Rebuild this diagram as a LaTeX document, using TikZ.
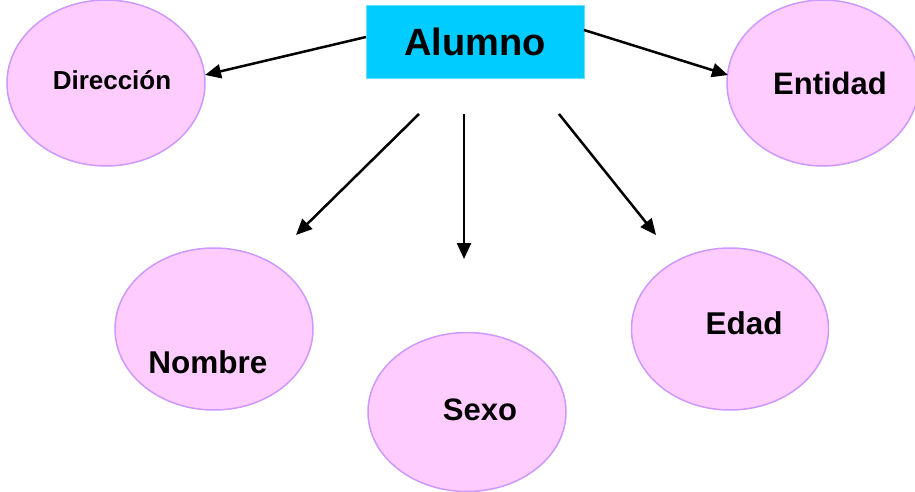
\documentclass[tikz,border=0pt]{standalone}
\usepackage{fontspec}
\setmainfont{Liberation Sans}
\usetikzlibrary{shapes.geometric,arrows.meta}
\definecolor{boxcyan}{HTML}{00CCFF}
\definecolor{attrfill}{HTML}{FFCCFF}
\definecolor{attrline}{HTML}{CC99FF}
\tikzset{
  attr/.style={ellipse, draw=attrline, fill=attrfill, line width=1.5pt, inner sep=0pt},
  lbl/.style={font=\bfseries, inner sep=0pt},
  link/.style={line width=2.5pt, -{Triangle[length=16pt,width=14pt]}},
}
\begin{document}
\begin{tikzpicture}[x=1pt,y=-1pt]
\useasboundingbox (0,0) rectangle (915,492);

% entity box
\node[fill=boxcyan, draw=boxcyan!60, line width=0.6pt, minimum width=218pt, minimum height=73pt, inner sep=0pt,
      font=\bfseries\fontsize{38}{40}\selectfont] (alumno) at (475,41.5) {Alumno};

% attribute ellipses
\node[attr, minimum width=198pt, minimum height=166pt] (dir) at (106,83) {};
\node[attr, minimum width=192pt, minimum height=166pt] (ent) at (823,83) {};
\node[attr, minimum width=198pt, minimum height=162pt] (nom) at (214,329) {};
\node[attr, minimum width=198pt, minimum height=159pt] (sex) at (467,412) {};
\node[attr, minimum width=197pt, minimum height=162pt] (eda) at (730,329) {};

% attribute labels
\node[lbl, font=\bfseries\fontsize{26}{28}\selectfont] (tdir) at (112,80) {Dirección};
\node[lbl, font=\bfseries\fontsize{31}{33}\selectfont] (tent) at (830,83) {Entidad};
\node[lbl, font=\bfseries\fontsize{31.5}{33}\selectfont] (tnom) at (208,362) {Nombre};
\node[lbl, font=\bfseries\fontsize{31}{33}\selectfont] (tsex) at (480,410) {Sexo};
\node[lbl, font=\bfseries\fontsize{31.5}{33}\selectfont] (teda) at (744,323) {Edad};

% arrow anchors
\coordinate (sdir) at (366,37);
\coordinate (edir) at (205,75);
\coordinate (sent) at (584,30);
\coordinate (eent) at (728,75);
\coordinate (snom) at (419,114);
\coordinate (enom) at (296,235);
\coordinate (ssex) at (464,114);
\coordinate (esex) at (464,259);
\coordinate (seda) at (559,114);
\coordinate (eeda) at (656,235);

\draw[link] (sdir) -- (edir);
\draw[link] (sent) -- (eent);
\draw[link] (snom) -- (enom);
\draw[link] (ssex) -- (esex);
\draw[link] (seda) -- (eeda);
\end{tikzpicture}
\end{document}
